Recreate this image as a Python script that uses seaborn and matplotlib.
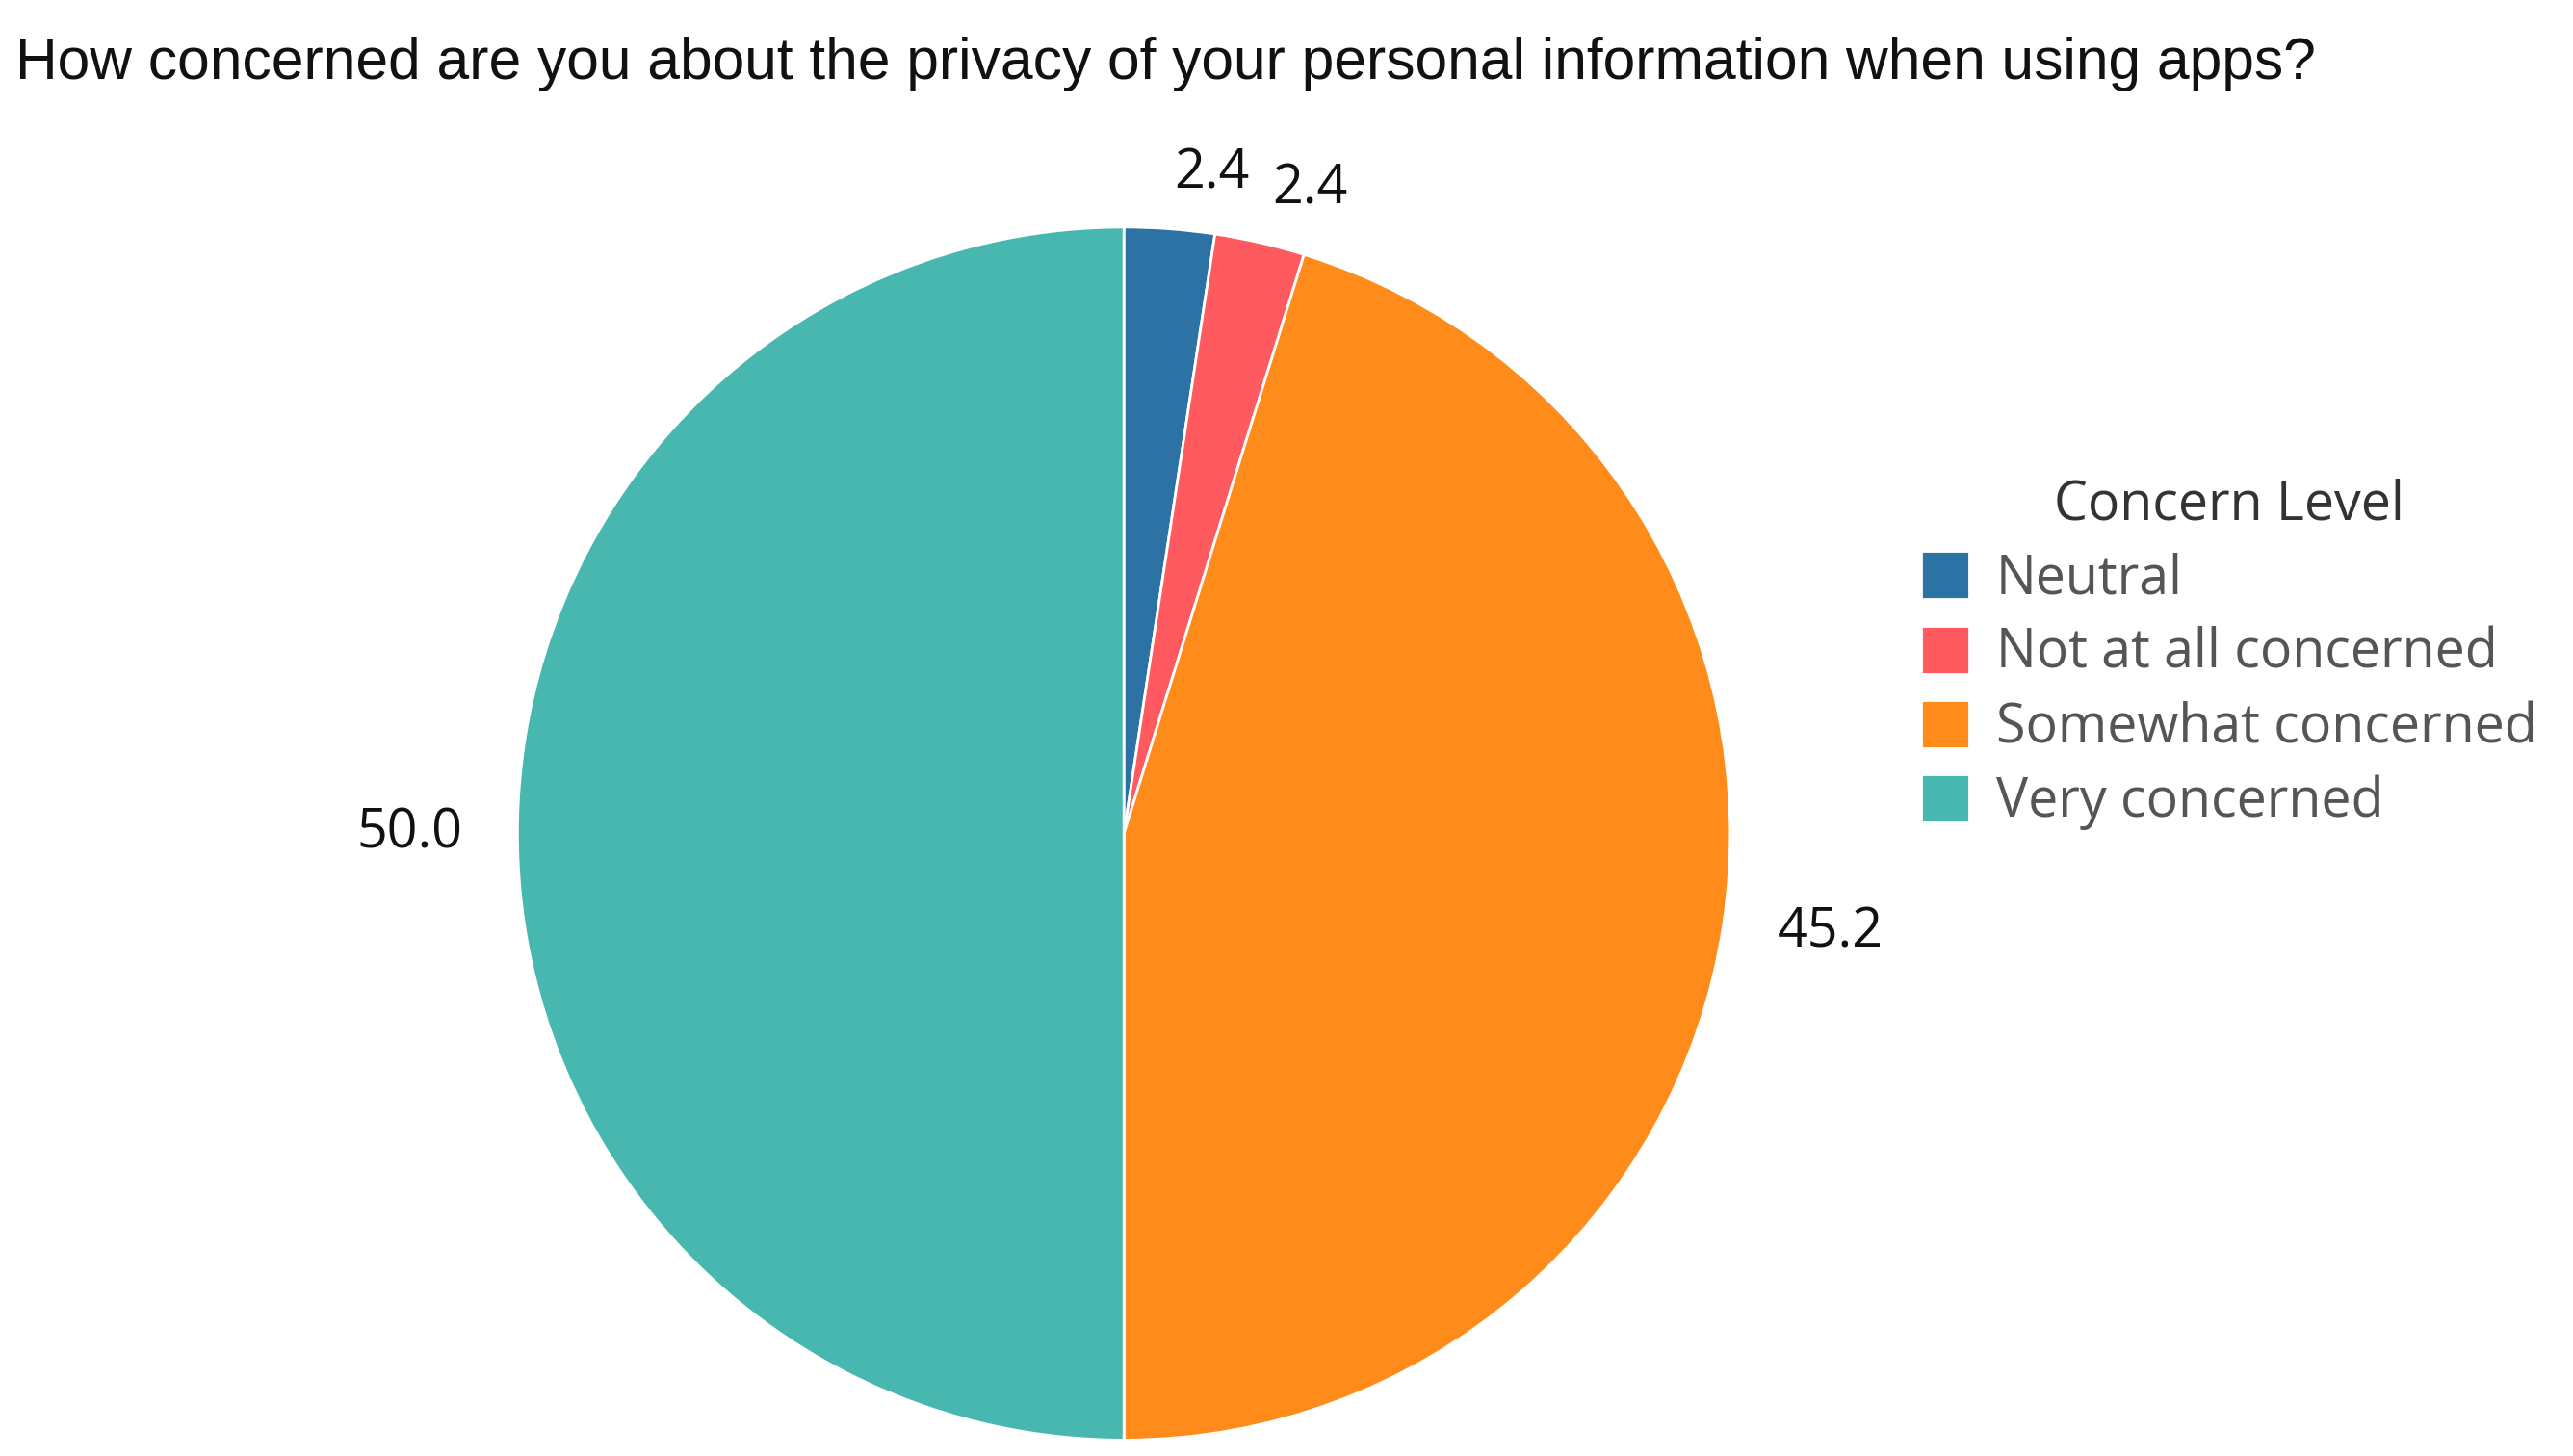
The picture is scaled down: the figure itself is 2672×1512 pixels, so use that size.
import matplotlib
matplotlib.use("Agg")
import matplotlib.pyplot as plt
import seaborn as sns

sns.set_theme(style="white")
plt.rcParams['font.family'] = ['Open Sans', 'DejaVu Sans']

categories = ["Neutral", "Not at all concerned", "Somewhat concerned", "Very concerned"]
values = [2.4, 2.4, 45.2, 50.0]
colors = ["#2D72A5", "#FF5A5F", "#FF8C1A", "#47B7B0"]
title = "How concerned are you about the privacy of your personal information when using apps?"

fig = plt.figure(figsize=(26.72, 15.12), dpi=100)
ax = fig.add_axes([0.201, 0.011, 0.4716, 0.833])
wedges, texts = ax.pie(values, colors=colors, startangle=90, counterclock=False,
                       labels=[f"{v:.1f}" for v in values], labeldistance=1.09,
                       textprops=dict(fontsize=40, color="#111111"),
                       wedgeprops=dict(linewidth=2, edgecolor="white"))
ax.set_xlim(-1, 1)
ax.set_ylim(-1, 1)
ax.set_aspect("equal")
for t in texts:
    t.set_clip_on(False)
fig.text(0.006, 0.975, title, fontsize=43.6, family=['Liberation Sans', 'DejaVu Sans'],
         ha="left", va="top", color="#111111")
leg = fig.legend(wedges, categories, loc="upper left", bbox_to_anchor=(0.728, 0.705),
                 frameon=False, fontsize=40, title="Concern Level", title_fontsize=40,
                 handlelength=0.9, handleheight=1.0, handletextpad=0.5, labelspacing=0.35,
                 labelcolor="#555555")
leg.get_title().set_color("#333333")
fig.savefig("out.png", dpi=100)
